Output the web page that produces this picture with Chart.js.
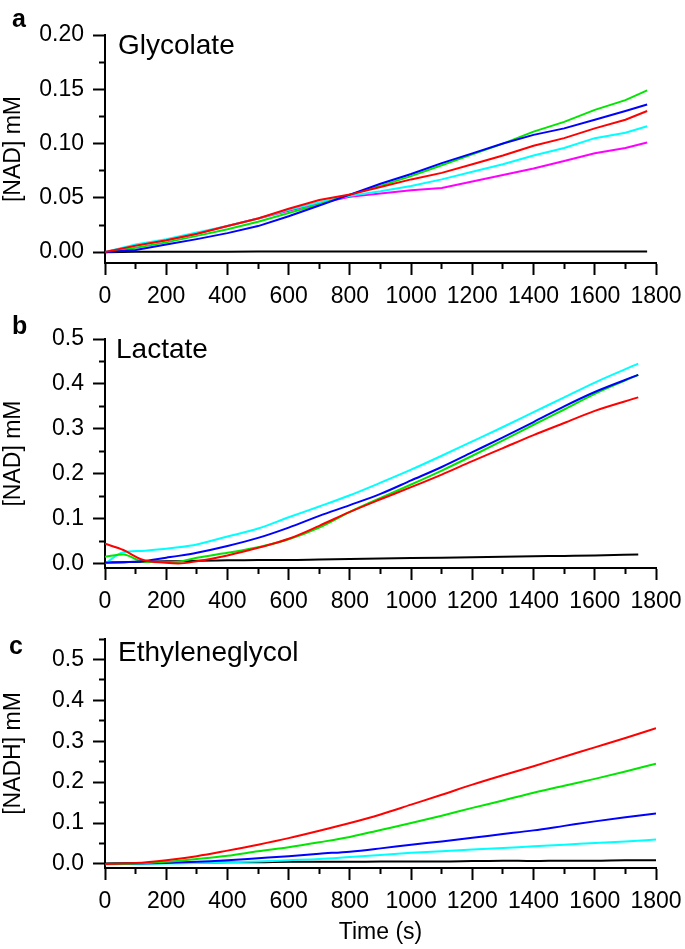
<!DOCTYPE html>
<html>
<head>
<meta charset="utf-8">
<script src="https://cdn.jsdelivr.net/npm/chart.js@4.4.0/dist/chart.umd.min.js"></script>
<style>
  body { margin: 0; background: #fff; }
  #wrap { position: relative; width: 685px; height: 949px; font-family: "Liberation Sans", Arial, sans-serif; }
  canvas { position: absolute; left: 0; }
  .lbl { position: absolute; line-height: 1; white-space: nowrap; color: #000; }
  .pl { font-weight: bold; font-size: 25px; }
  .nm { font-size: 28px; }
</style>
</head>
<body>
<div id="wrap">
  <canvas id="chartA" width="685" height="308" style="top:0px"></canvas>
  <canvas id="chartB" width="685" height="305" style="top:308px"></canvas>
  <canvas id="chartC" width="685" height="336" style="top:613px"></canvas>
  <div class="lbl pl" style="left:12px;top:6px">a</div>
  <div class="lbl nm" style="left:118px;top:31px">Glycolate</div>
  <div class="lbl pl" style="left:12px;top:313px">b</div>
  <div class="lbl nm" style="left:116px;top:335px">Lactate</div>
  <div class="lbl pl" style="left:9px;top:633px">c</div>
  <div class="lbl nm" style="left:118px;top:638px">Ethyleneglycol</div>
</div>
<script>
// panel a - glycolate
const timeA = [0, 100, 200, 300, 400, 500, 600, 700, 800, 900, 1000, 1100, 1200, 1300, 1400, 1500, 1600, 1700, 1771];
const glyRed     = [0, 0.006, 0.011, 0.017, 0.024, 0.031, 0.040, 0.048, 0.053, 0.060, 0.067, 0.073, 0.081, 0.089, 0.098, 0.105, 0.114, 0.122, 0.130];
const glyBlue    = [0, 0.002, 0.007, 0.012, 0.0175, 0.024, 0.033, 0.043, 0.053, 0.063, 0.072, 0.082, 0.091, 0.100, 0.108, 0.114, 0.122, 0.130, 0.136];
const glyGreen   = [0, 0.004, 0.009, 0.015, 0.021, 0.028, 0.036, 0.044, 0.053, 0.061, 0.070, 0.080, 0.090, 0.100, 0.111, 0.120, 0.131, 0.140, 0.149];
const glyCyan    = [0, 0.007, 0.012, 0.018, 0.024, 0.031, 0.039, 0.046, 0.052, 0.056, 0.061, 0.067, 0.074, 0.081, 0.089, 0.096, 0.105, 0.110, 0.116];
const glyMagenta = [0, 0.006, 0.011, 0.017, 0.024, 0.031, 0.038, 0.045, 0.051, 0.054, 0.057, 0.059, 0.065, 0.071, 0.077, 0.084, 0.091, 0.096, 0.101];
const glyBlack   = [0, 0.0003, 0.0003, 0.0004, 0.0004, 0.0005, 0.0005, 0.0005, 0.0005, 0.0005, 0.0006, 0.0006, 0.0006, 0.0006, 0.0006, 0.0006, 0.0006, 0.0006, 0.0006];

// panel b - lactate
const timeB = [0, 60, 120, 200, 240, 300, 400, 500, 600, 700, 800, 900, 1000, 1100, 1200, 1300, 1400, 1500, 1600, 1742];
const lacRed   = [0.044, 0.030, 0.009, 0.0015, 0.000, 0.005, 0.018, 0.035, 0.055, 0.084, 0.115, 0.143, 0.170, 0.198, 0.228, 0.257, 0.286, 0.313, 0.340, 0.370];
const lacBlue  = [0.0015, 0.003, 0.005, 0.013, 0.017, 0.024, 0.039, 0.057, 0.080, 0.106, 0.130, 0.155, 0.185, 0.215, 0.248, 0.281, 0.315, 0.350, 0.382, 0.420];
const lacGreen = [0.015, 0.020, 0.005, 0.003, 0.004, 0.013, 0.024, 0.036, 0.054, 0.080, 0.115, 0.146, 0.176, 0.207, 0.240, 0.274, 0.309, 0.343, 0.378, 0.420];
const lacCyan  = [0.000, 0.025, 0.028, 0.033, 0.036, 0.0425, 0.060, 0.078, 0.103, 0.127, 0.152, 0.180, 0.209, 0.240, 0.272, 0.304, 0.337, 0.370, 0.403, 0.445];
const lacBlack = [0.002, 0.003, 0.004, 0.005, 0.005, 0.006, 0.007, 0.008, 0.008, 0.009, 0.010, 0.011, 0.012, 0.013, 0.014, 0.015, 0.016, 0.017, 0.018, 0.020];

// panel c - ethyleneglycol
const timeC = [0, 100, 200, 300, 400, 500, 600, 700, 800, 900, 1000, 1100, 1200, 1300, 1400, 1500, 1600, 1700, 1800];
const egRed   = [0, 0.002, 0.009, 0.019, 0.0325, 0.047, 0.063, 0.081, 0.100, 0.121, 0.145, 0.169, 0.194, 0.217, 0.239, 0.262, 0.285, 0.308, 0.332];
const egGreen = [0, 0.001, 0.005, 0.012, 0.020, 0.031, 0.041, 0.053, 0.066, 0.083, 0.100, 0.118, 0.137, 0.155, 0.174, 0.191, 0.208, 0.226, 0.245];
const egBlue  = [0, 0.001, 0.0025, 0.005, 0.009, 0.014, 0.019, 0.025, 0.030, 0.038, 0.047, 0.055, 0.064, 0.073, 0.082, 0.093, 0.104, 0.114, 0.123];
const egCyan  = [-0.001, 0, 0.001, 0.002, 0.004, 0.006, 0.009, 0.012, 0.017, 0.022, 0.027, 0.031, 0.035, 0.039, 0.043, 0.047, 0.051, 0.055, 0.0595];
const egBlack = [0.001, 0.002, 0.002, 0.003, 0.004, 0.004, 0.005, 0.005, 0.005, 0.006, 0.006, 0.006, 0.007, 0.008, 0.007, 0.008, 0.008, 0.009, 0.009];

// axis ticks
const xMajor = [0, 200, 400, 600, 800, 1000, 1200, 1400, 1600, 1800];
const xMinor = [100, 300, 500, 700, 900, 1100, 1300, 1500, 1700];
const yMajorA = [0, 0.05, 0.10, 0.15, 0.20];
const yMinorA = [0.025, 0.075, 0.125, 0.175];
const yMajorB = [0, 0.1, 0.2, 0.3, 0.4, 0.5];
const yMinorB = [0.05, 0.15, 0.25, 0.35, 0.45];
const yMajorC = [0, 0.1, 0.2, 0.3, 0.4, 0.5];
const yMinorC = [0.05, 0.15, 0.25, 0.35, 0.45, 0.55];

const FONT = "'Liberation Sans', Arial, sans-serif";
const colRed = '#ff0000', colBlue = '#0000ff', colGreen = '#00e600', colCyan = '#00ffff', colMagenta = '#ff00ff';

function pts(t, v) {
    return t.map((x, i) => ({x: x, y: v[i]}));
}

function line(t, v, color, smooth) {
    return {
        data: pts(t, v),
        borderColor: color,
        borderWidth: 2,
        pointRadius: 0,
        fill: false,
        tension: 0,
        cubicInterpolationMode: smooth ? 'monotone' : 'default'
    };
}

function makeChart(id, datasets, o) {
    const setTicks = (vals) => (scale) => { scale.ticks = vals.map(v => ({value: v})); };
    return new Chart(document.getElementById(id), {
        type: 'line',
        data: {datasets: datasets},
        options: {
            responsive: false,
            animation: false,
            layout: {padding: {top: o.padTop, right: 29, left: 0, bottom: 0}},
            plugins: {legend: {display: false}, tooltip: {enabled: false}},
            scales: {
                x: {
                    type: 'linear', position: 'bottom', weight: 1,
                    min: 0, max: 1800,
                    afterBuildTicks: setTicks(xMajor),
                    // fixed box, no extra room for the last label
                    afterFit: (s) => { s.height = o.xHeight; s.paddingLeft = 0; s.paddingRight = 0; },
                    border: {display: true, color: '#000', width: 2},
                    grid: {drawOnChartArea: false, drawTicks: true, tickLength: 12, tickWidth: 2, tickColor: '#000'},
                    ticks: {color: '#000', font: {family: FONT, size: 23}, padding: 8, maxRotation: 0, autoSkip: false, callback: (v) => String(v)},
                    title: {display: !!o.xTitle, text: o.xTitle || '', color: '#000', font: {family: FONT, size: 23}, padding: {top: 0, bottom: 3}}
                },
                x2: {
                    type: 'linear', position: 'bottom', weight: 0,
                    min: 0, max: 1800,
                    afterBuildTicks: setTicks(xMinor),
                    afterFit: (s) => { s.height = 0; s.paddingLeft = 0; s.paddingRight = 0; },
                    border: {display: false},
                    grid: {drawOnChartArea: false, drawTicks: true, tickLength: 6, tickWidth: 2, tickColor: '#000'},
                    ticks: {display: false}
                },
                y: {
                    type: 'linear', position: 'left', weight: 1,
                    min: -0.01, max: o.yMax,
                    afterBuildTicks: setTicks(o.yMajor),
                    afterFit: (s) => { s.width = 105; },
                    border: {display: true, color: '#000', width: 2},
                    grid: {drawOnChartArea: false, drawTicks: true, tickLength: 12, tickWidth: 2, tickColor: '#000'},
                    ticks: {color: '#000', font: {family: FONT, size: 23}, padding: 9, callback: (v) => v.toFixed(o.dec)},
                    title: {display: true, text: o.yTitle, color: '#000', font: {family: FONT, size: 23}, padding: 0}
                },
                y2: {
                    type: 'linear', position: 'left', weight: 0,
                    min: -0.01, max: o.yMax,
                    afterBuildTicks: setTicks(o.yMinor),
                    afterFit: (s) => { s.width = 0; },
                    border: {display: false},
                    grid: {drawOnChartArea: false, drawTicks: true, tickLength: 6, tickWidth: 2, tickColor: '#000'},
                    ticks: {display: false}
                }
            }
        }
    });
}

makeChart('chartA', [
    line(timeA, glyRed, colRed),
    line(timeA, glyBlue, colBlue),
    line(timeA, glyGreen, colGreen),
    line(timeA, glyCyan, colCyan),
    line(timeA, glyMagenta, colMagenta),
    line(timeA, glyBlack, '#000')
], {padTop: 35, xHeight: 45, yMax: 0.20, yMajor: yMajorA, yMinor: yMinorA, dec: 2, yTitle: '[NAD] mM'});

makeChart('chartB', [
    line(timeB, lacRed, colRed, true),
    line(timeB, lacBlue, colBlue, true),
    line(timeB, lacGreen, colGreen, true),
    line(timeB, lacCyan, colCyan, true),
    line(timeB, lacBlack, '#000', true)
], {padTop: 31, xHeight: 45, yMax: 0.5, yMajor: yMajorB, yMinor: yMinorB, dec: 1, yTitle: '[NAD] mM'});

makeChart('chartC', [
    line(timeC, egRed, colRed, true),
    line(timeC, egGreen, colGreen, true),
    line(timeC, egBlue, colBlue, true),
    line(timeC, egCyan, colCyan, true),
    line(timeC, egBlack, '#000', true)
], {padTop: 26, xHeight: 81, yMax: 0.55, yMajor: yMajorC, yMinor: yMinorC, dec: 1, yTitle: '[NADH] mM', xTitle: 'Time (s)'});
</script>
</body>
</html>
